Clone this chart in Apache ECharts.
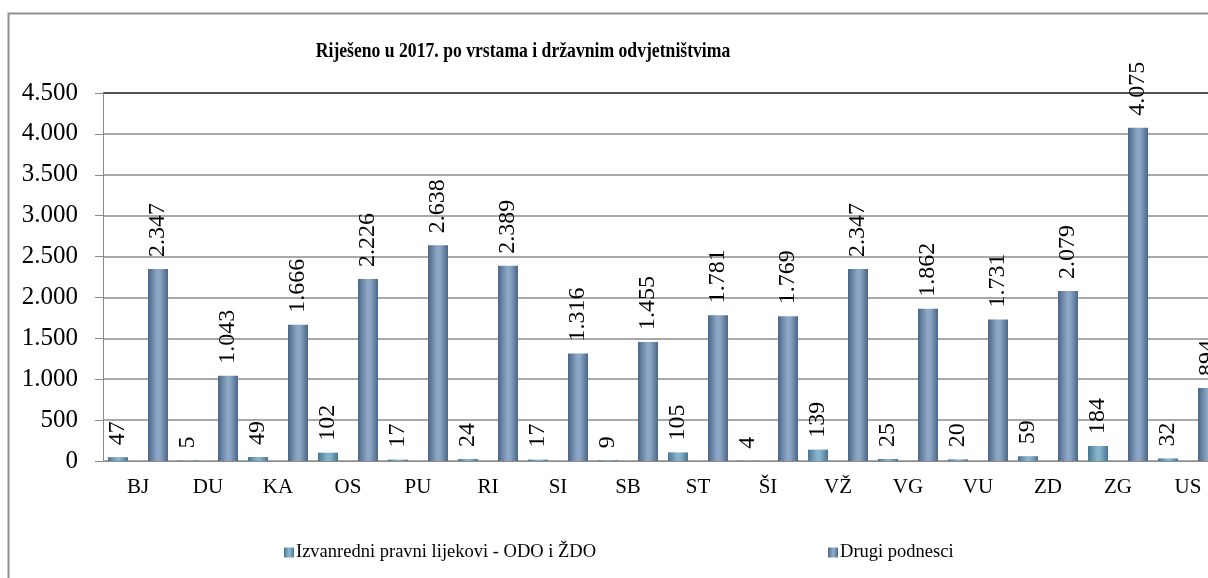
<!DOCTYPE html>
<html>
<head>
<meta charset="utf-8">
<script src="https://cdn.jsdelivr.net/npm/echarts@6/dist/echarts.min.js"></script>
<style>
  html, body { margin: 0; padding: 0; background: #ffffff; overflow: hidden; }
  #chart { width: 1240px; height: 578px; }
</style>
</head>
<body>
<div id="chart"></div>
<script>
// Državna odvjetništva (kratice)
const categories = ['BJ', 'DU', 'KA', 'OS', 'PU', 'RI', 'SI', 'SB', 'ST', 'ŠI', 'VŽ', 'VG', 'VU', 'ZD', 'ZG', 'US'];
// Izvanredni pravni lijekovi - ODO i ŽDO
const izvanredni = [47, 5, 49, 102, 17, 24, 17, 9, 105, 4, 139, 25, 20, 59, 184, 32];
// Drugi podnesci
const drugi = [2347, 1043, 1666, 2226, 2638, 2389, 1316, 1455, 1781, 1769, 2347, 1862, 1731, 2079, 4075, 894];
const seriesNames = ['Izvanredni pravni lijekovi - ODO i ŽDO', 'Drugi podnesci'];
const titleText = 'Riješeno u 2017. po vrstama i državnim odvjetništvima';

const FONT = 'Liberation Serif';

// Hrvatski format broja: točka kao razdjelnik tisućica
function fmt(v) {
  return String(v).replace(/\B(?=(\d{3})+(?!\d))/g, '.');
}

function barGradient(edge, mid) {
  return new echarts.graphic.LinearGradient(0, 0, 1, 0, [
    { offset: 0, color: edge },
    { offset: 0.45, color: mid },
    { offset: 0.6, color: mid },
    { offset: 1, color: edge }
  ]);
}

const chart = echarts.init(document.getElementById('chart'), null, { renderer: 'canvas' });

const gridColors = ['#8c8c8c', '#8c8c8c', '#8c8c8c', '#8c8c8c', '#8c8c8c',
                    '#8c8c8c', '#8c8c8c', '#8c8c8c', '#8c8c8c', '#1a1a1a'];

const valueLabel = {
  show: true,
  position: 'top',
  rotate: 90,
  align: 'left',
  verticalAlign: 'middle',
  distance: 12,
  fontFamily: FONT,
  fontSize: 24,
  color: '#000',
  formatter: p => fmt(p.value)
};

chart.setOption({
  backgroundColor: '#ffffff',
  animation: false,
  graphic: [
    {
      // okvir grafikona
      type: 'rect',
      shape: { x: 8.5, y: 13.5, width: 1300, height: 700 },
      style: { fill: 'none', stroke: '#8f8f8f', lineWidth: 2 },
      silent: true,
      z: -1
    },
    {
      // naslov, malo suženi bold serif
      type: 'text',
      x: 523,
      y: 52,
      scaleX: 0.84,
      style: {
        text: titleText,
        fontFamily: FONT,
        fontWeight: 'bold',
        fontSize: 21,
        fill: '#000',
        align: 'center',
        verticalAlign: 'middle'
      },
      silent: true
    }
  ],
  legend: {
    data: seriesNames,
    left: 279,
    top: 538,
    itemWidth: 10,
    itemHeight: 10,
    itemGap: 232,
    icon: 'rect',
    textStyle: { fontFamily: FONT, fontSize: 18.5, color: '#000', padding: [0, 0, 0, -3] }
  },
  grid: { left: 103, right: 17, top: 93, bottom: 117, containLabel: false },
  xAxis: {
    type: 'category',
    data: categories,
    axisLine: { show: true, lineStyle: { color: '#8c8c8c', width: 1 } },
    axisTick: { show: false },
    axisLabel: { fontFamily: FONT, fontSize: 21, color: '#000', margin: 16 }
  },
  yAxis: {
    type: 'value',
    min: 0,
    max: 4500,
    interval: 500,
    axisLine: { show: true, lineStyle: { color: '#8c8c8c' } },
    axisTick: { show: true, length: 8, lineStyle: { color: '#8c8c8c' } },
    axisLabel: { fontFamily: FONT, fontSize: 25, color: '#000', margin: 25, formatter: fmt },
    splitLine: { show: true, lineStyle: { color: gridColors, width: 1.5 } }
  },
  series: [
    {
      name: seriesNames[0],
      type: 'bar',
      data: izvanredni,
      barWidth: 20,
      barGap: '100%',
      itemStyle: { color: barGradient('#4a7591', '#86b3cc') },
      label: valueLabel
    },
    {
      name: seriesNames[1],
      type: 'bar',
      data: drugi,
      barWidth: 20,
      itemStyle: { color: barGradient('#4a6585', '#8ca6c6') },
      label: valueLabel
    }
  ]
});
</script>
</body>
</html>
